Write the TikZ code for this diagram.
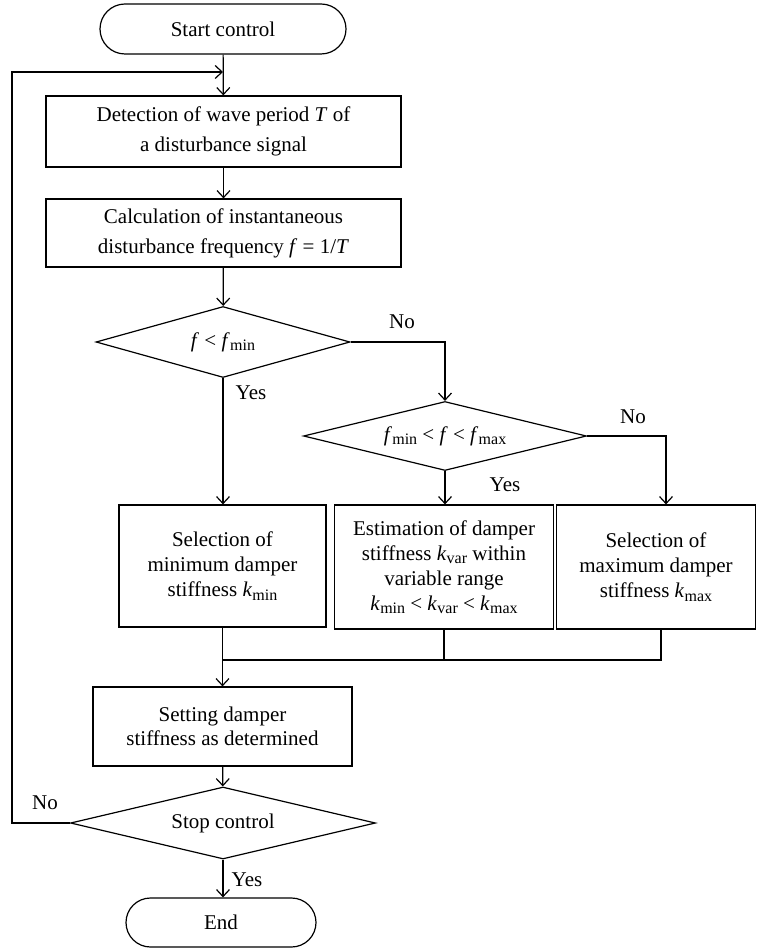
\documentclass[tikz,border=0pt]{standalone}
\usepackage{fontspec}
\setmainfont{Liberation Serif}
\usetikzlibrary{shapes.geometric,shapes.misc,arrows.meta}
\newcommand{\vsub}[1]{\kern0.3pt\raisebox{-0.35ex}{\fontsize{16}{16}\selectfont #1}}
\begin{document}
\begin{tikzpicture}[x=1pt,y=-1pt,
  font=\fontsize{21}{25}\selectfont,
  line width=1.2pt,
  arr/.style={-{Straight Barb[length=7pt,width=13pt,line width=1.2pt]}},
  term/.style={draw,rounded rectangle,inner sep=0pt},
  proc/.style={draw,rectangle,inner sep=0pt,align=center},
  dec/.style={draw,diamond,inner sep=0pt,align=center},
  lab/.style={inner sep=0pt}]
\useasboundingbox (0,0) rectangle (757,949);

\node[term,minimum width=246pt,minimum height=50pt] (start) at (223,29) {Start control};
\node[proc,minimum width=355pt,minimum height=71pt,font=\fontsize{21}{30}\selectfont] (b1) at (223.5,131.5) {Detection of wave period \textit{T} of\\a disturbance signal};
\node[proc,minimum width=355pt,minimum height=68pt,font=\fontsize{21}{30}\selectfont] (b2) at (223.5,233) {Calculation of instantaneous\\disturbance frequency \textit{f} = 1/\textit{T}};
\node[dec,minimum width=254pt,minimum height=71pt,aspect=3.58] (d1) at (223,342) {\textit{f} < \textit{f}\vsub{min}};
\node[dec,minimum width=283pt,minimum height=69pt,aspect=4.1] (d2) at (445,436) {\textit{f}\vsub{min} < \textit{f} < \textit{f}\vsub{max}};
\node[proc,minimum width=207pt,minimum height=122pt] (ba) at (222.5,566) {Selection of\\minimum damper\\stiffness \textit{k}\vsub{min}};
\node[proc,minimum width=219pt,minimum height=124pt] (bb) at (444,567) {Estimation of damper\\stiffness \textit{k}\vsub{var} within\\variable range\\\textit{k}\vsub{min} < \textit{k}\vsub{var} < \textit{k}\vsub{max}};
\node[proc,minimum width=199pt,minimum height=124pt] (bc) at (656,567) {Selection of\\maximum damper\\stiffness \textit{k}\vsub{max}};
\node[proc,minimum width=259pt,minimum height=79pt,font=\fontsize{21}{24}\selectfont] (set) at (222.5,726.5) {Setting damper\\stiffness as determined};
\node[dec,minimum width=305pt,minimum height=72pt,aspect=4.24] (d3) at (223,823) {Stop control};
\node[term,minimum width=190pt,minimum height=49pt] (end) at (221,922.5) {End};

\node[lab] (no1) at (402,322) {No};
\node[lab] (yes1) at (251,393) {Yes};
\node[lab] (no2) at (633,417) {No};
\node[lab] (yes2) at (505,485) {Yes};
\node[lab] (no3) at (45,803) {No};
\node[lab] (yes3) at (247,880) {Yes};

\coordinate (loopL) at (12,823);
\coordinate (loopT) at (12,72);
\coordinate (join) at (223,72);
\coordinate (merge) at (223,660);

\draw[arr] (start) -- (b1);
\draw[arr] (d3.west) -- (loopL) -- (loopT) -- (join);
\draw[arr] (b1) -- (b2);
\draw[arr] (b2) -- (d1);
\draw[arr] (d1.east) -| (d2.north);
\draw[arr] (d1.south) -- (d1.south |- ba.north);
\draw[arr] (d2.south) -- (d2.south |- bb.north);
\draw[arr] (d2.east) -| ([xshift=10pt]bc.north);
\draw (bb.south) -- (bb.south |- merge);
\draw ([xshift=5pt]bc.south) |- (merge);
\draw[arr] (ba.south) -- (ba.south |- set.north);
\draw[arr] (set) -- (d3);
\draw[arr] (d3.south) -- (d3.south |- end.north);
\end{tikzpicture}
\end{document}
